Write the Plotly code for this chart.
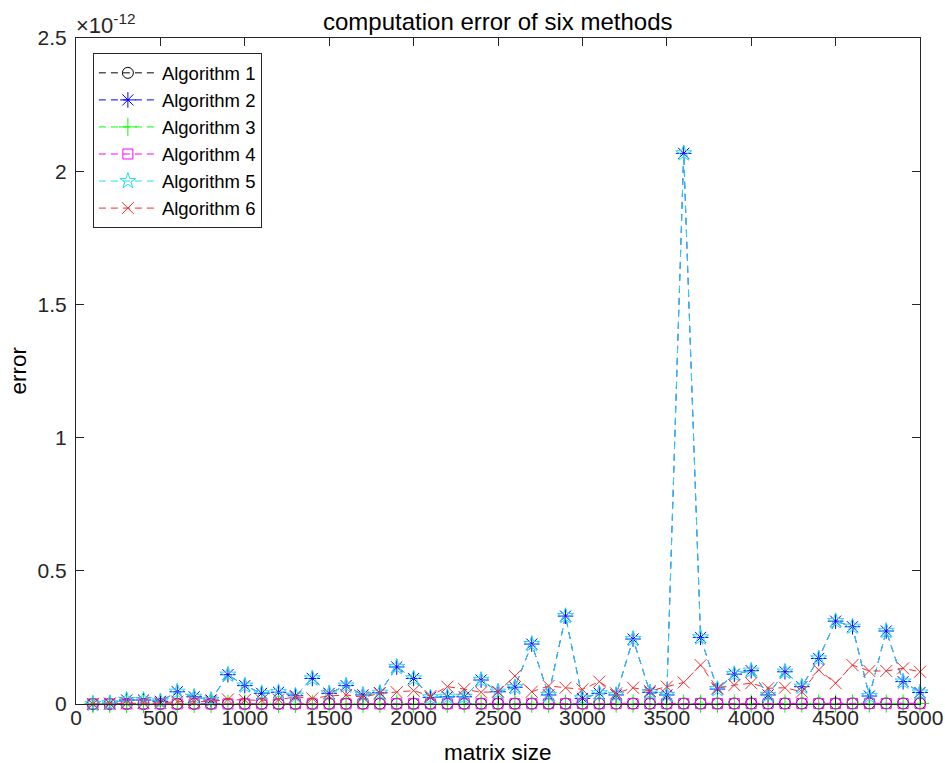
import plotly.graph_objects as go

matrix_size = list(range(100, 5001, 100))

alg1 = [0.0002, 0.0003, 0.0004, 0.0004, 0.0005, 0.0005, 0.0006, 0.0006, 0.0007, 0.0007,
        0.0008, 0.0008, 0.0008, 0.0009, 0.0009, 0.0010, 0.0010, 0.0010, 0.0011, 0.0011,
        0.0012, 0.0012, 0.0012, 0.0013, 0.0013, 0.0013, 0.0014, 0.0014, 0.0015, 0.0015,
        0.0015, 0.0016, 0.0016, 0.0016, 0.0017, 0.0017, 0.0017, 0.0018, 0.0018, 0.0018,
        0.0019, 0.0019, 0.0019, 0.0020, 0.0020, 0.0020, 0.0021, 0.0021, 0.0021, 0.0022]
alg2 = [0.000, 0.003, 0.015, 0.015, 0.010, 0.046, 0.027, 0.015, 0.110, 0.069,
        0.040, 0.044, 0.031, 0.096, 0.040, 0.069, 0.034, 0.042, 0.139, 0.096,
        0.025, 0.027, 0.027, 0.090, 0.046, 0.063, 0.225, 0.034, 0.330, 0.021,
        0.040, 0.034, 0.244, 0.044, 0.034, 2.067, 0.250, 0.056, 0.112, 0.125,
        0.034, 0.121, 0.065, 0.171, 0.311, 0.290, 0.030, 0.274, 0.084, 0.043]
alg3 = [0.0001, 0.0002, 0.0002, 0.0003, 0.0003, 0.0003, 0.0004, 0.0004, 0.0004, 0.0005,
        0.0005, 0.0005, 0.0006, 0.0006, 0.0006, 0.0007, 0.0007, 0.0007, 0.0008, 0.0008,
        0.0008, 0.0009, 0.0009, 0.0009, 0.0010, 0.0010, 0.0010, 0.0011, 0.0011, 0.0011,
        0.0012, 0.0012, 0.0012, 0.0013, 0.0013, 0.0013, 0.0014, 0.0014, 0.0014, 0.0015,
        0.0015, 0.0015, 0.0016, 0.0016, 0.0016, 0.0017, 0.0017, 0.0017, 0.0018, 0.0018]
alg4 = [0.0002, 0.0002, 0.0003, 0.0003, 0.0004, 0.0004, 0.0005, 0.0005, 0.0005, 0.0006,
        0.0006, 0.0007, 0.0007, 0.0007, 0.0008, 0.0008, 0.0009, 0.0009, 0.0009, 0.0010,
        0.0010, 0.0011, 0.0011, 0.0011, 0.0012, 0.0012, 0.0013, 0.0013, 0.0013, 0.0014,
        0.0014, 0.0015, 0.0015, 0.0015, 0.0016, 0.0016, 0.0017, 0.0017, 0.0017, 0.0018,
        0.0018, 0.0019, 0.0019, 0.0019, 0.0020, 0.0020, 0.0021, 0.0021, 0.0021, 0.0022]
alg5 = [0.000, 0.003, 0.015, 0.015, 0.010, 0.046, 0.027, 0.015, 0.110, 0.069,
        0.040, 0.044, 0.031, 0.096, 0.040, 0.069, 0.034, 0.042, 0.139, 0.096,
        0.025, 0.027, 0.027, 0.090, 0.046, 0.063, 0.225, 0.034, 0.330, 0.021,
        0.040, 0.034, 0.244, 0.044, 0.034, 2.067, 0.250, 0.056, 0.112, 0.125,
        0.034, 0.121, 0.065, 0.171, 0.311, 0.290, 0.030, 0.274, 0.084, 0.043]
alg6 = [0.000, 0.001, 0.003, 0.004, 0.004, 0.009, 0.008, 0.010, 0.017, 0.015,
        0.014, 0.016, 0.027, 0.021, 0.030, 0.034, 0.025, 0.040, 0.044, 0.050,
        0.030, 0.065, 0.056, 0.044, 0.046, 0.105, 0.046, 0.068, 0.061, 0.055,
        0.084, 0.040, 0.061, 0.049, 0.065, 0.081, 0.146, 0.059, 0.071, 0.078,
        0.059, 0.061, 0.046, 0.128, 0.078, 0.146, 0.124, 0.124, 0.134, 0.121]

names = ["Algorithm 1", "Algorithm 2", "Algorithm 3", "Algorithm 4", "Algorithm 5", "Algorithm 6"]
series = [alg1, alg2, alg3, alg4, alg5, alg6]
colors = ["#000000", "#0000ff", "#00ff00", "#ff00ff", "#22dcf0", "#f03030"]
symbols = ["circle-open", "asterisk-open", "cross-thin-open", "square-open", "star-open", "x-thin-open"]
msizes = [11, 13, 13, 10, 12, 12]

FONT = "Liberation Sans, Arial, Helvetica, sans-serif"
AX = "#262626"

fig = go.Figure()
for name, ys, col, sym, ms in zip(names, series, colors, symbols, msizes):
    fig.add_trace(go.Scatter(
        x=matrix_size, y=ys, name=name, mode="lines+markers", cliponaxis=False,
        line=dict(color=col, width=1, dash="7px,5px"),
        marker=dict(symbol=sym, size=ms, color=col, line=dict(color=col, width=1)),
    ))

fig.update_layout(
    width=945, height=763,
    margin=dict(l=76, r=25, t=38, b=59, autoexpand=False),
    paper_bgcolor="white", plot_bgcolor="white",
    font=dict(family=FONT, size=21, color=AX),
    showlegend=True,
    legend=dict(x=0.02, y=0.977, xanchor="left", yanchor="top",
                bgcolor="white", bordercolor=AX, borderwidth=1, itemwidth=58,
                font=dict(size=18.5, color="#000000"), tracegroupgap=0),
    xaxis=dict(range=[0, 5000], tickvals=[0, 500, 1000, 1500, 2000, 2500, 3000, 3500, 4000, 4500, 5000],
               ticks="inside", ticklen=8, tickcolor=AX, showline=True, linecolor=AX, linewidth=1,
               mirror="ticks", showgrid=False, zeroline=False, ticklabelstandoff=-5,
               automargin=False, tickfont=dict(size=21, color=AX)),
    yaxis=dict(range=[0, 2.5], tickvals=[0, 0.5, 1, 1.5, 2, 2.5],
               ticktext=["0", "0.5", "1", "1.5", "2", "2.5"],
               ticks="inside", ticklen=8, tickcolor=AX, showline=True, linecolor=AX, linewidth=1,
               mirror="ticks", showgrid=False, zeroline=False, ticklabelstandoff=4,
               automargin=False, tickfont=dict(size=21, color=AX)),
    annotations=[
        dict(text="computation error of six methods", xref="paper", yref="paper", x=0.5, y=1,
             xanchor="center", yanchor="bottom", yshift=1, showarrow=False,
             font=dict(size=24, color="#000000")),
        dict(text="matrix size", xref="paper", yref="paper", x=0.5, y=0,
             xanchor="center", yanchor="top", yshift=-34, showarrow=False,
             font=dict(size=22.5, color="#000000")),
        dict(text="error", xref="paper", yref="paper", x=0, y=0.5, textangle=-90,
             xanchor="right", yanchor="middle", xshift=-44, showarrow=False,
             font=dict(size=22.5, color="#000000")),
        dict(text="×10<sup>-12</sup>", xref="paper", yref="paper", x=0, y=1,
             xanchor="left", yanchor="bottom", xshift=-2, yshift=-2, showarrow=False,
             font=dict(size=22, color=AX)),
    ],
)

# remove the default 8px page margin so the figure fills the window exactly
fig.write_html("out.html", config={"displayModeBar": False},
               post_script="document.body.style.margin='0';document.body.style.overflow='hidden';")
